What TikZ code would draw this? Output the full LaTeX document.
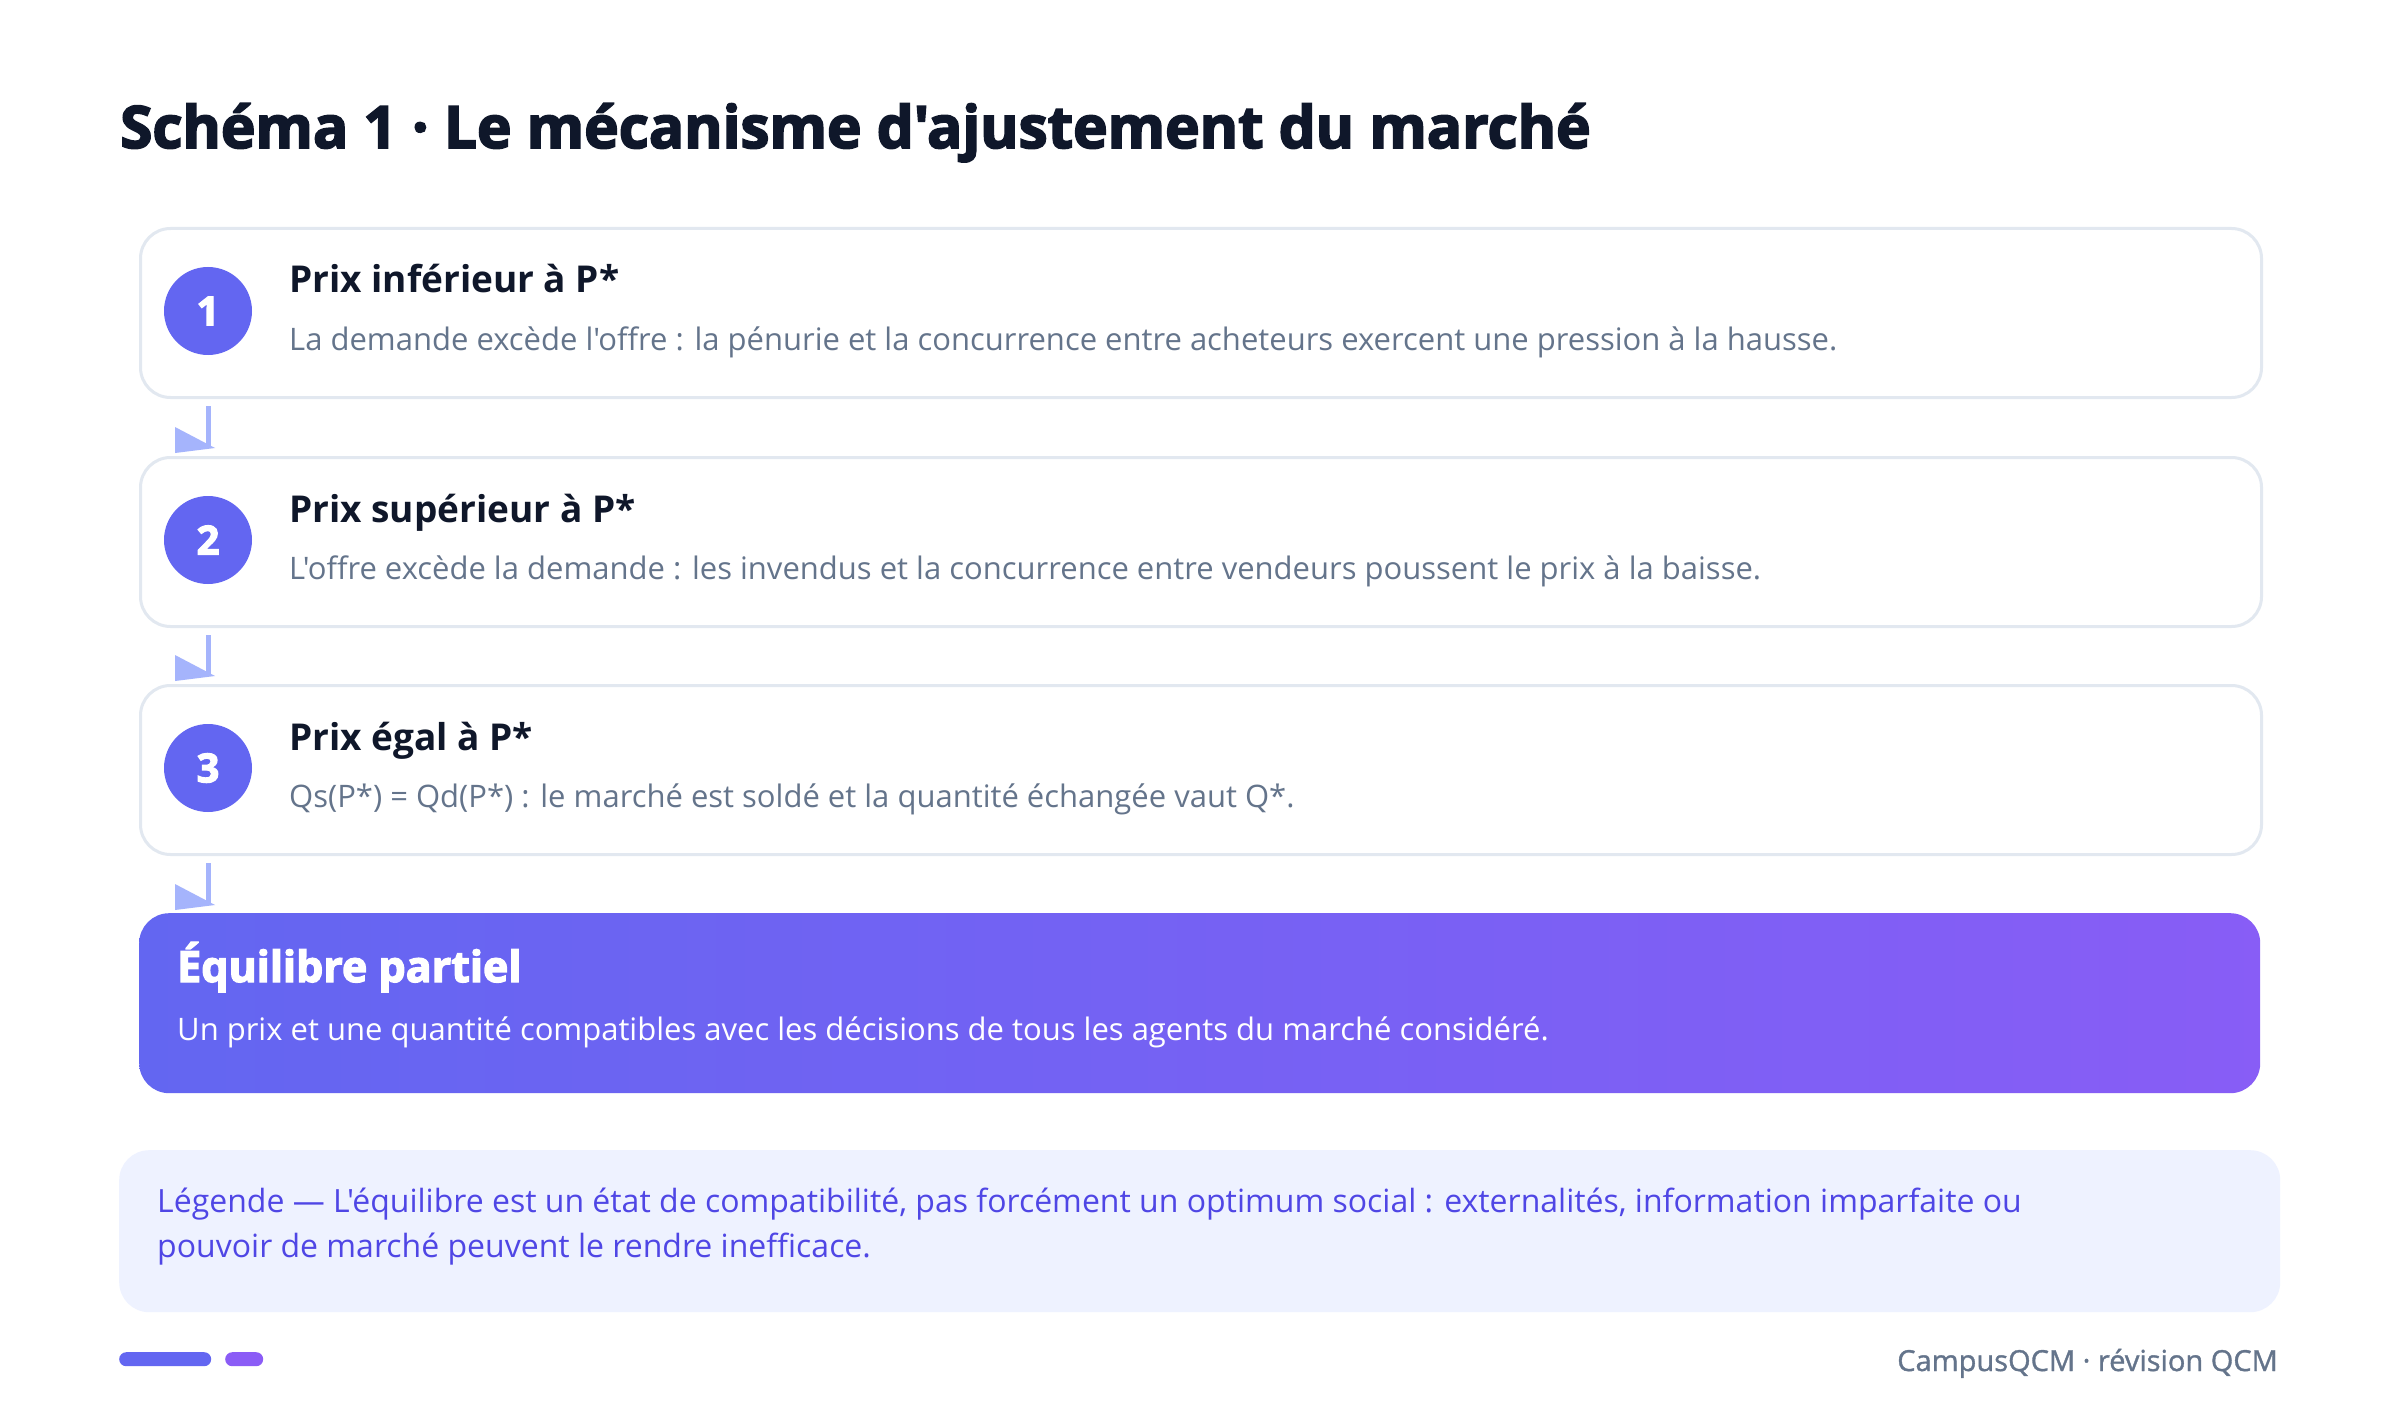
\documentclass[tikz,border=0pt]{standalone}
\usepackage{fontspec}
\setmainfont{Open Sans}[Ligatures=TeXOff]
\newfontfamily\heavy{Open Sans}[FakeBold=3]
\newfontfamily\semib{Open Sans}[FakeBold=1.2]
\usetikzlibrary{calc}
\definecolor{ink}{HTML}{0F172A}
\definecolor{slate}{HTML}{64748B}
\definecolor{cardline}{HTML}{E2E8F0}
\definecolor{indigo}{HTML}{6366F1}
\definecolor{violet}{HTML}{8B5CF6}
\definecolor{arrowc}{HTML}{A5B4FC}
\definecolor{legfill}{HTML}{EEF2FF}
\definecolor{legtext}{HTML}{4F46E5}
\begin{document}
\begin{tikzpicture}[x=1pt,y=-1pt,
  card/.style={draw=cardline, line width=3pt, fill=white, rounded corners=30pt,
    minimum width=2121pt, minimum height=169pt, anchor=north west, inner sep=0pt},
  num/.style={circle, fill=indigo, minimum size=88pt, inner sep=0pt, text=white,
    font=\heavy\bfseries\fontsize{40}{44}\selectfont},
  stitle/.style={anchor=base west, inner sep=0pt, text=ink,
    font=\bfseries\fontsize{37}{42}\selectfont},
  sdesc/.style={anchor=base west, inner sep=0pt, text=slate,
    font=\fontsize{31}{36}\selectfont},
  conn/.style={draw=arrowc, line width=5pt},
  tipfill/.style={fill=arrowc}]
\useasboundingbox[fill=white] (0,0) rectangle (2400,1420);

% main title
\node[anchor=base west, inner sep=0pt, text=ink, font=\heavy\bfseries\fontsize{58.5}{64}\selectfont]
  (title) at (120,148) {Schéma 1 · Le mécanisme d'ajustement du marché};

% cards
\node[card] (b1) at (139,227) {};
\node[card] (b2) at (139,456) {};
\node[card] (b3) at (139,684) {};

\node[num] (n1) at (208,311) {1};
\node[num] (n2) at (208,540) {2};
\node[num] (n3) at (208,768) {3};

\node[stitle] (t1) at (289,293) {Prix inférieur à P*};
\node[sdesc]  (d1) at (289,350) {La demande excède l'offre : la pénurie et la concurrence entre acheteurs exercent une pression à la hausse.};
\node[stitle] (t2) at (289,522) {Prix supérieur à P*};
\node[sdesc]  (d2) at (289,579) {L'offre excède la demande : les invendus et la concurrence entre vendeurs poussent le prix à la baisse.};
\node[stitle] (t3) at (289,750) {Prix égal à P*};
\node[sdesc]  (d3) at (289,807) {Qs(P*) = Qd(P*) : le marché est soldé et la quantité échangée vaut Q*.};

% result box
\node[anchor=north west, minimum width=2121pt, minimum height=180pt, inner sep=0pt,
  rounded corners=30pt, left color=indigo, right color=violet!92!indigo] (b4) at (139,913) {};
\node[anchor=base west, inner sep=0pt, text=white, font=\heavy\bfseries\fontsize{43}{48}\selectfont]
  (t4) at (177,982) {Équilibre partiel};
\node[anchor=base west, inner sep=0pt, text=white, font=\fontsize{31}{36}\selectfont]
  (d4) at (177,1040) {Un prix et une quantité compatibles avec les décisions de tous les agents du marché considéré.};

% connectors
\foreach \a/\b in {b1/b2, b2/b3, b3/b4}{
  \draw[conn] ($(\a.south west)+(69,7)$) -- ($(\b.north west)+(69,-8)$);
  \fill[tipfill] ($(\b.north west)+(36,-29)$) -- ($(\b.north west)+(76,-8)$)
    -- ($(\b.north west)+(36,-3)$) -- cycle;
}

% legend
\node[anchor=north west, minimum width=2161pt, minimum height=162pt, inner sep=0pt,
  rounded corners=30pt, fill=legfill] (leg) at (119,1150) {};
\node[anchor=base west, inner sep=0pt, text=legtext, font=\fontsize{32}{36}\selectfont]
  (l1) at (157,1212) {Légende — L'équilibre est un état de compatibilité, pas forcément un optimum social : externalités, information imparfaite ou};
\node[anchor=base west, inner sep=0pt, text=legtext, font=\fontsize{32}{36}\selectfont]
  (l2) at (157,1257) {pouvoir de marché peuvent le rendre inefficace.};

% footer
\node[anchor=north west, minimum width=92pt, minimum height=14pt, inner sep=0pt,
  rounded corners=7pt, fill=indigo] (p1) at (119,1352) {};
\node[anchor=north west, minimum width=38pt, minimum height=14pt, inner sep=0pt,
  rounded corners=7pt, fill=violet] (p2) at (225,1352) {};
\node[anchor=base east, inner sep=0pt, text=slate, font=\semib\fontsize{29}{33}\selectfont]
  (foot) at (2278,1371) {CampusQCM · révision QCM};
\end{tikzpicture}
\end{document}
